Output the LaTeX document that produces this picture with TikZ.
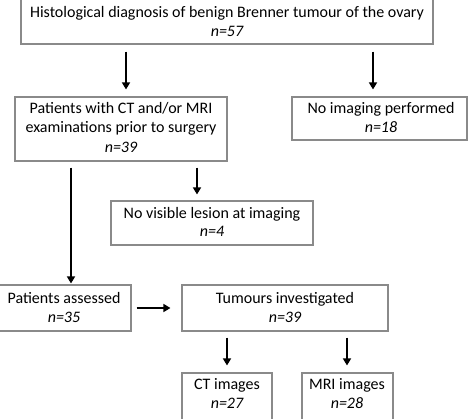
\documentclass[tikz,border=0pt]{standalone}
\usepackage{fontspec}
\setmainfont{Carlito}
\usetikzlibrary{arrows.meta,calc}
\definecolor{boxgray}{HTML}{8A8A8A}
\tikzset{
  box/.style={draw=boxgray,line width=1.1pt,rectangle,inner sep=0pt,fill=white},
  txt/.style={anchor=base,inner sep=0pt,font=\fontsize{16}{18}\selectfont},
  arr/.style={draw=black,line width=1.5pt,-{Triangle[length=7pt,width=8pt]}},
}
\newcommand{\boxat}[5]{% name, x1,y1,x2,y2
  \node[box,minimum width={#4-#2},minimum height={#5-#3}] (#1) at ({(#2+#4)/2},{(#3+#5)/2}) {};}
\begin{document}
\begin{tikzpicture}[x=1pt,y=-1pt]
\useasboundingbox (0,0) rectangle (474,418);
\fill[white] (0,0) rectangle (474,418);
\clip (0,0) rectangle (474,418);
\boxat{b1}{21}{-3}{433}{44}
\boxat{b2}{15}{97}{227}{161}
\boxat{b3}{292}{97}{467}{140}
\boxat{b4}{111}{201}{313}{245}
\boxat{b5}{-3}{285}{131}{331}
\boxat{b6}{182}{285}{388}{331}
\boxat{b7}{182}{373}{272}{428}
\boxat{b8}{302}{373}{393}{428}
\node[txt] (t1a) at (227,17) {Histological diagnosis of benign Brenner tumour of the ovary};
\node[txt] (t1b) at (227,36) {\itshape n=57};
\node[txt] (t2a) at (121,113) {Patients with CT and/or MRI};
\node[txt] (t2b) at (121,132) {examinations prior to surgery};
\node[txt] (t2c) at (121,152) {\itshape n=39};
\node[txt] (t3a) at (381,113) {No imaging performed};
\node[txt] (t3b) at (381,132) {\itshape n=18};
\node[txt] (t4a) at (212,218) {No visible lesion at imaging};
\node[txt] (t4b) at (212,236) {\itshape n=4};
\node[txt] (t5a) at (64,303) {Patients assessed};
\node[txt] (t5b) at (64,322) {\itshape n=35};
\node[txt] (t6a) at (285,303) {Tumours investigated};
\node[txt] (t6b) at (285,322) {\itshape n=39};
\node[txt] (t7a) at (227,389) {CT images};
\node[txt] (t7b) at (227,408) {\itshape n=27};
\node[txt] (t8a) at (347,389) {MRI images};
\node[txt] (t8b) at (347,408) {\itshape n=28};
\draw[arr,shorten <=7pt,shorten >=7pt] (b1.south -| 126,0) -- (b2.north -| 126,0);
\draw[arr,shorten <=7pt,shorten >=7pt] (b1.south -| 373,0) -- (b3.north -| 373,0);
\draw[arr,shorten <=6pt,shorten >=1pt] (b2.south -| 71,0) -- (b5.north -| 71,0);
\draw[arr,shorten <=6pt,shorten >=6pt] (b2.south -| 197,0) -- (b4.north -| 197,0);
\draw[arr,shorten <=5pt,shorten >=11pt] (b5.east |- 0,308) -- (b6.west |- 0,308);
\draw[arr,shorten <=6pt,shorten >=7pt] (b6.south -| 227,0) -- (b7.north -| 227,0);
\draw[arr,shorten <=6pt,shorten >=7pt] (b6.south -| 347,0) -- (b8.north -| 347,0);
\end{tikzpicture}
\end{document}
